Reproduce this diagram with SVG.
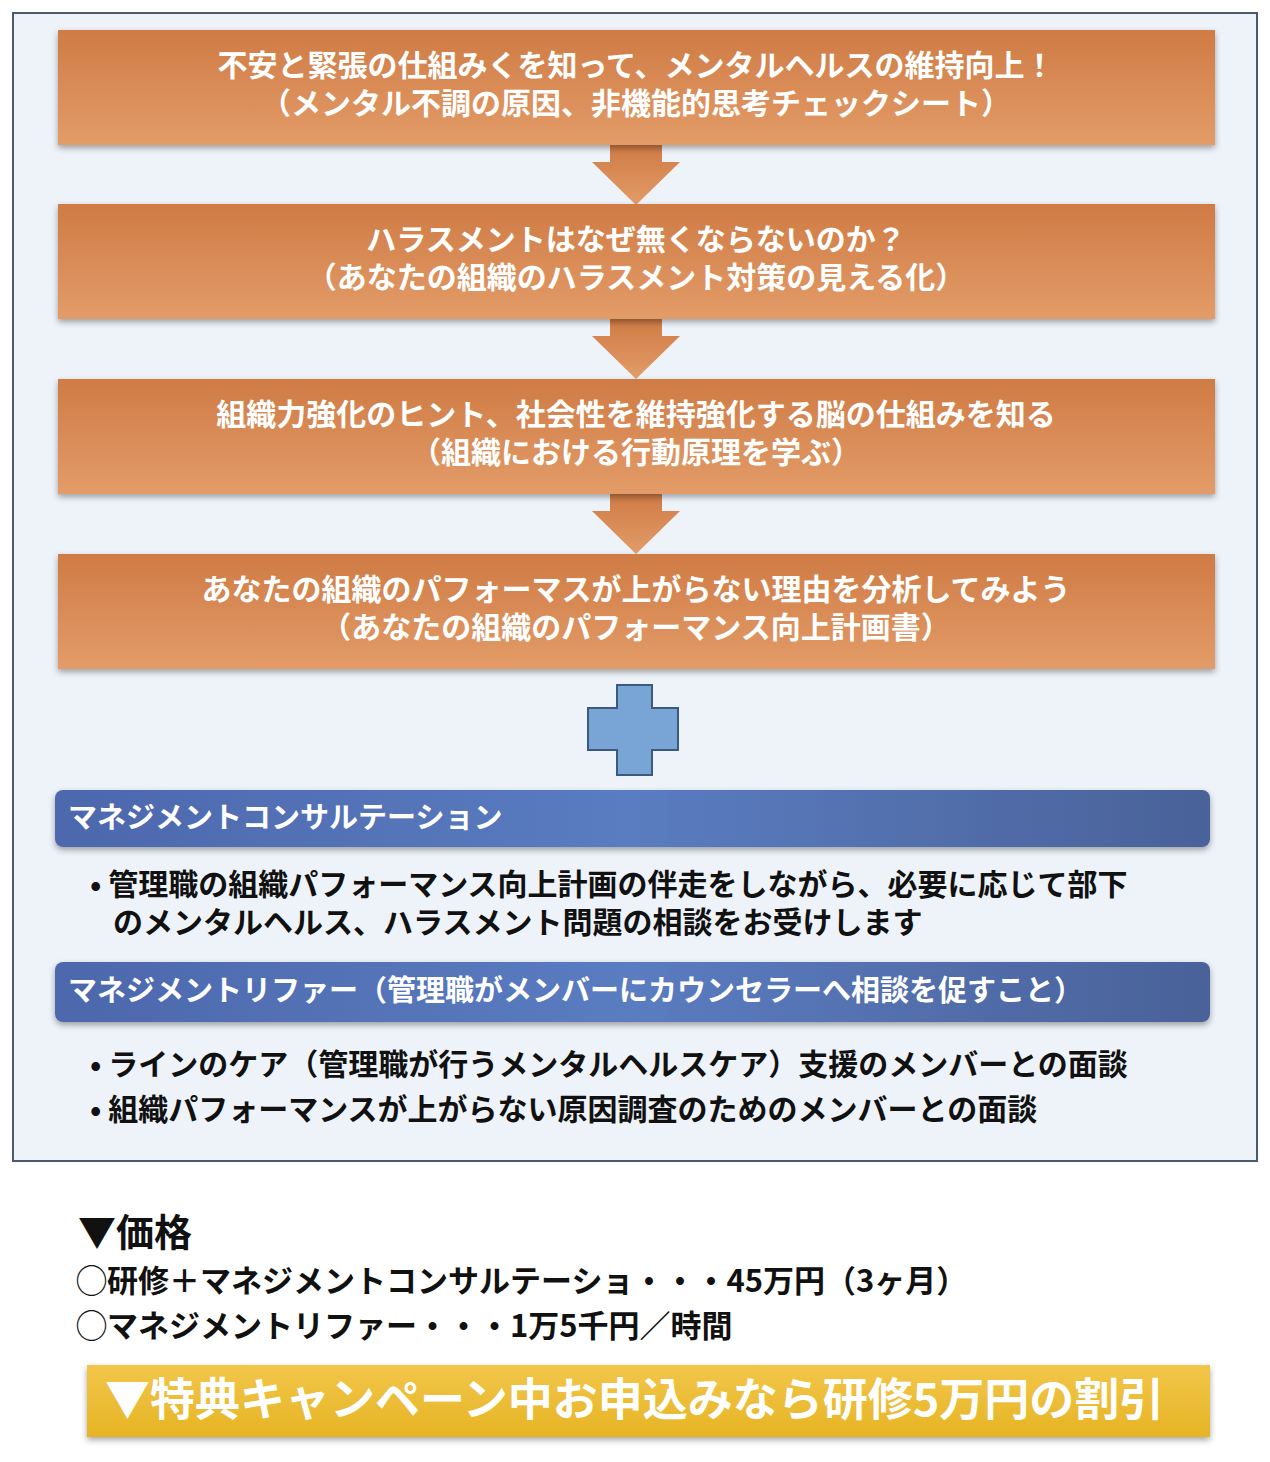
<svg xmlns="http://www.w3.org/2000/svg" width="1270" height="1462" viewBox="0 0 1270 1462">
<defs>
<linearGradient id="og" x1="0" y1="0" x2="0" y2="1"><stop offset="0" stop-color="#cf7b45"/><stop offset="1" stop-color="#e39c68"/></linearGradient>
<linearGradient id="bg" x1="0" y1="0" x2="1" y2="0"><stop offset="0" stop-color="#4d68ad"/><stop offset="0.5" stop-color="#5a7cc0"/><stop offset="1" stop-color="#4a6299"/></linearGradient>
<linearGradient id="yg" x1="0" y1="0" x2="0" y2="1"><stop offset="0" stop-color="#f2c64a"/><stop offset="1" stop-color="#e6b424"/></linearGradient>
<filter id="sh" x="-5%" y="-20%" width="110%" height="150%"><feDropShadow dx="0" dy="3" stdDeviation="3" flood-color="#000" flood-opacity="0.35"/></filter>
</defs>
<style>
text{font-family:"Noto Sans CJK JP","Noto Sans",sans-serif;font-weight:bold;}
.w{fill:#fff;font-size:30px;text-anchor:middle;}
.b{fill:#fff;font-size:29px;}
.k{fill:#111;font-size:30px;}
.p{fill:#111;font-size:31px;}
</style>
<rect x="13" y="13" width="1244" height="1148" fill="#eef3fa" stroke="#4a5a70" stroke-width="2"/>
<g id="connectors">
<g fill="url(#og)">
<polygon points="610,145 662,145 662,162 680,162 636,205 592,162 610,162"/>
<polygon points="610,319 662,319 662,336 680,336 636,379 592,336 610,336"/>
<polygon points="610,494 662,494 662,511 680,511 636,554 592,511 610,511"/>
</g>
</g>
<g id="n1"><rect x="58" y="30" width="1157" height="115" fill="url(#og)" filter="url(#sh)"/>
<text class="w" x="636" y="76">不安と緊張の仕組みくを知って、メンタルヘルスの維持向上！</text>
<text class="w" x="636" y="114">（メンタル不調の原因、非機能的思考チェックシート）</text></g>
<g id="n2"><rect x="58" y="204" width="1157" height="115" fill="url(#og)" filter="url(#sh)"/>
<text class="w" x="636" y="250">ハラスメントはなぜ無くならないのか？</text>
<text class="w" x="636" y="288">（あなたの組織のハラスメント対策の見える化）</text></g>
<g id="n3"><rect x="58" y="379" width="1157" height="115" fill="url(#og)" filter="url(#sh)"/>
<text class="w" x="636" y="425">組織力強化のヒント、社会性を維持強化する脳の仕組みを知る</text>
<text class="w" x="636" y="463">（組織における行動原理を学ぶ）</text></g>
<g id="n4"><rect x="58" y="554" width="1157" height="115" fill="url(#og)" filter="url(#sh)"/>
<text class="w" x="636" y="600">あなたの組織のパフォーマスが上がらない理由を分析してみよう</text>
<text class="w" x="636" y="638">（あなたの組織のパフォーマンス向上計画書）</text></g>
<g id="plus"><polygon points="617,685 652,685 652,708 678,708 678,750 652,750 652,775 617,775 617,750 588,750 588,708 617,708" fill="#78a4d6" stroke="#3a5a80" stroke-width="2"/></g>
<g id="m1"><rect x="55" y="790" width="1155" height="57" rx="8" fill="url(#bg)" filter="url(#sh)"/>
<text class="b" x="68" y="828">マネジメントコンサルテーション</text></g>
<g id="t1"><text class="k" x="90" y="895">• 管理職の組織パフォーマンス向上計画の伴走をしながら、必要に応じて部下</text>
<text class="k" x="113" y="933">のメンタルヘルス、ハラスメント問題の相談をお受けします</text></g>
<g id="m2"><rect x="55" y="962" width="1155" height="60" rx="8" fill="url(#bg)" filter="url(#sh)"/>
<text class="b" x="68" y="1001">マネジメントリファー（管理職がメンバーにカウンセラーへ相談を促すこと）</text></g>
<g id="t2"><text class="k" x="90" y="1075">• ラインのケア（管理職が行うメンタルヘルスケア）支援のメンバーとの面談</text>
<text class="k" x="90" y="1120">• 組織パフォーマンスが上がらない原因調査のためのメンバーとの面談</text></g>
<g id="price"><text x="78" y="1246" fill="#111" font-size="38">▼価格</text>
<text class="p" x="76" y="1292">◯研修＋マネジメントコンサルテーショ・・・45万円（3ヶ月）</text>
<text class="p" x="76" y="1337">◯マネジメントリファー・・・1万5千円／時間</text></g>
<g id="promo"><rect x="87" y="1365" width="1123" height="72" fill="url(#yg)" filter="url(#sh)"/>
<text x="105" y="1416" fill="#fff" font-size="45">▼特典キャンペーン中お申込みなら研修5万円の割引</text></g>
</svg>
